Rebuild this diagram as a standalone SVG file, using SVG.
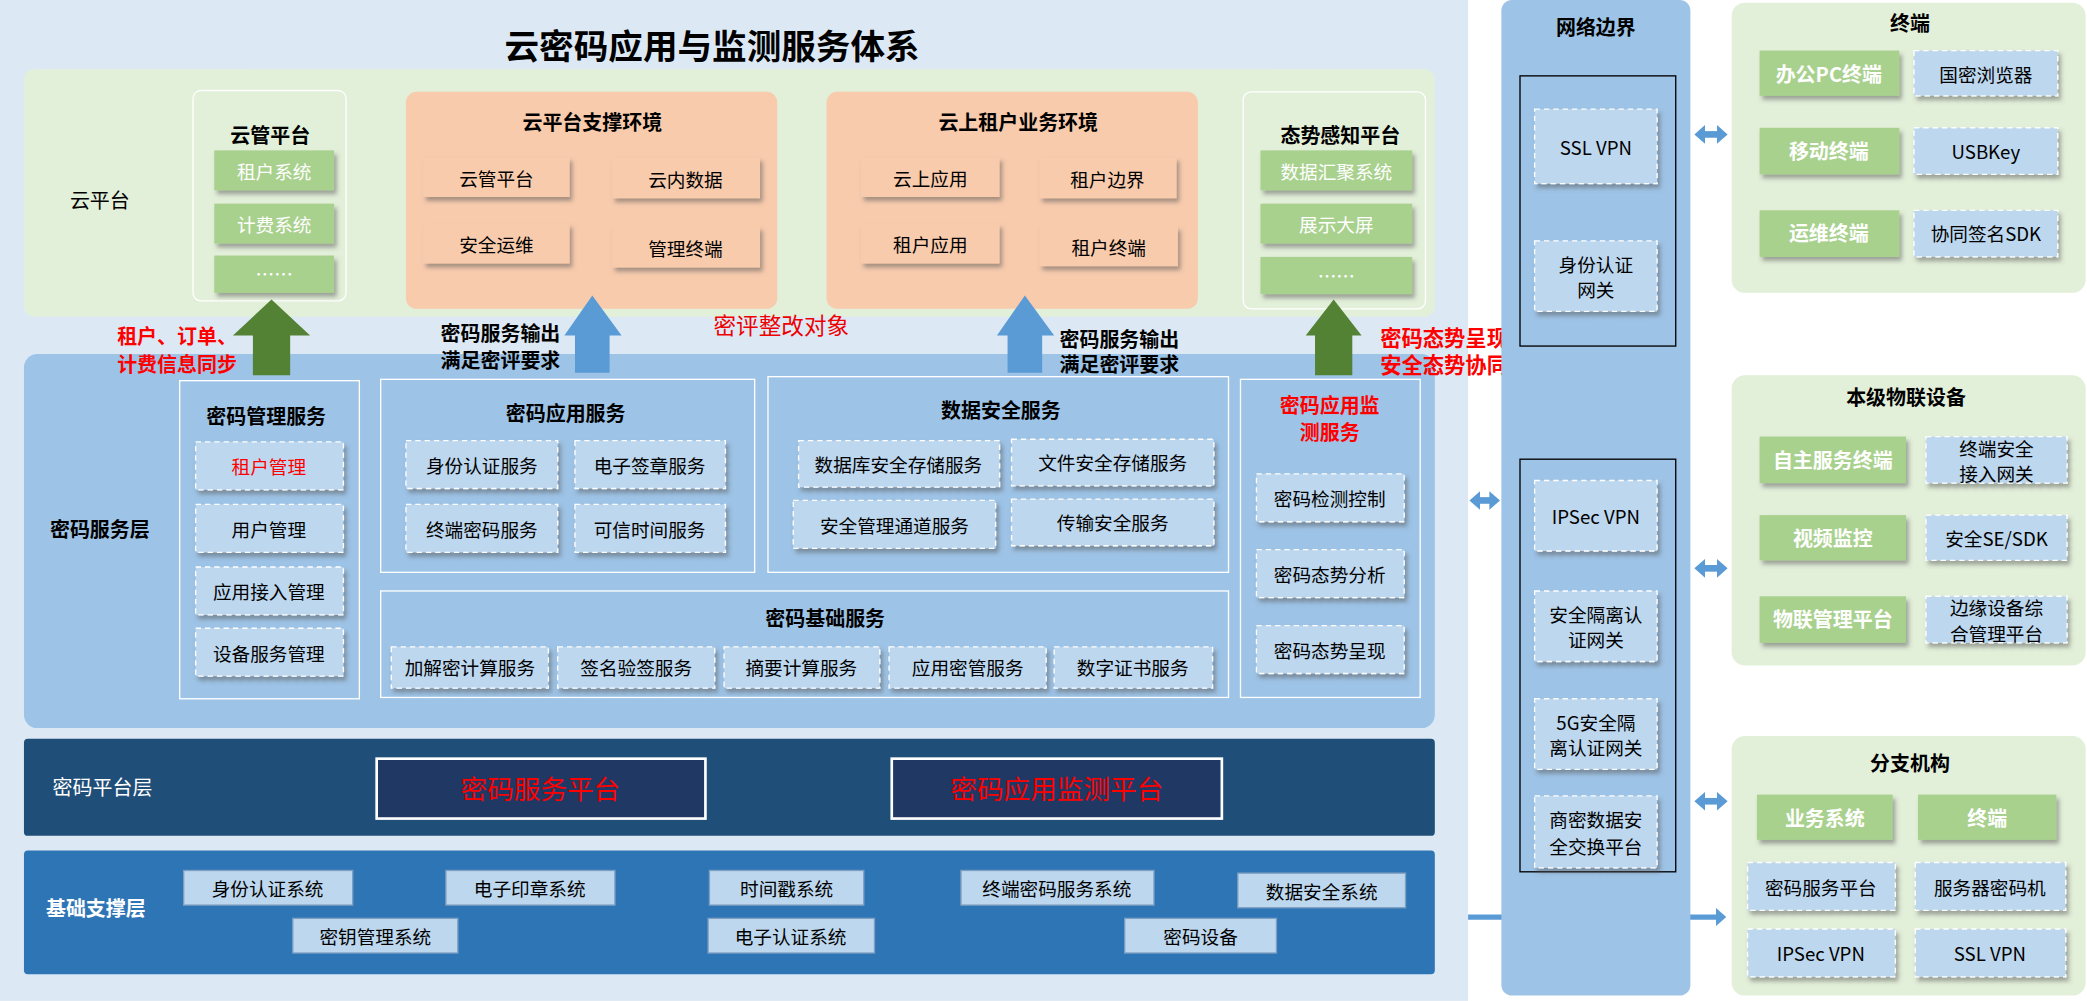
<svg xmlns="http://www.w3.org/2000/svg" width="2087" height="1001" viewBox="0 0 2087 1001">
<style>
text{font-family:"Noto Sans CJK SC","Liberation Sans",sans-serif;text-anchor:middle;dominant-baseline:central;fill:#000}
.t{font-size:14px}
.h{font-size:15px;font-weight:bold}
.w{fill:#fff}
.r{fill:#f00}
.g{fill:#a9d18e;filter:url(#sh)}
.o{fill:#f8cbad;filter:url(#sh)}
.d{fill:#bdd7ee;stroke:#fff;stroke-dasharray:4 3;stroke-width:1;filter:url(#sh)}
.lb{fill:#bdd7ee;stroke:#7f9fc0;stroke-width:1}
.ol{fill:none;stroke:#fff;stroke-width:1}
.da{stroke:#5b9bd5;stroke-width:5;marker-start:url(#ahs);marker-end:url(#ah)}
</style>
<defs>
<filter id="sh" x="-10%" y="-10%" width="130%" height="140%"><feDropShadow dx="2" dy="3" stdDeviation="1.5" flood-color="#555" flood-opacity="0.5"/></filter>
<marker id="ah" markerUnits="userSpaceOnUse" markerWidth="8" markerHeight="14" refX="2" refY="7" orient="auto"><path d="M0,0L8,7L0,14z" fill="#5b9bd5"/></marker>
<marker id="ahs" markerUnits="userSpaceOnUse" markerWidth="8" markerHeight="14" refX="6" refY="7" orient="auto"><path d="M8,0L0,7L8,14z" fill="#5b9bd5"/></marker>
</defs>
<g transform="scale(1.331)">
<g id="main">
<rect x="0" y="0" width="1103" height="752" fill="#dce9f5"/>
<text x="535" y="33" style="font-size:26px;font-weight:bold">云密码应用与监测服务体系</text>
<rect x="18" y="52" width="1060" height="186" rx="8" fill="#e2efd9"/>
<text x="75" y="150" class="h" style="font-weight:normal">云平台</text>
<rect x="18" y="266" width="1060" height="281" rx="10" fill="#9dc3e6"/>
<text x="75" y="397" class="h">密码服务层</text>
<rect x="18" y="555" width="1060" height="73" rx="3" fill="#1f4e79"/>
<text x="77" y="591" class="h w" style="font-weight:normal">密码平台层</text>
<rect x="18" y="639" width="1060" height="93" rx="3" fill="#2e75b6"/>
<text x="72" y="682" class="h w">基础支撑层</text>
</g>
<g id="yunguan">
<rect x="145" y="68" width="115" height="158" rx="6" fill="#e2efd9" stroke="#fff"/>
<text x="203" y="101" class="h">云管平台</text>
<rect class="g" x="161" y="113" width="90" height="30"/><text x="206" y="128" class="t w">租户系统</text>
<rect class="g" x="161" y="153" width="90" height="30"/><text x="206" y="168" class="t w">计费系统</text>
<rect class="g" x="161" y="192" width="90" height="28"/><text x="206" y="205" class="t w">……</text>
</g>
<g id="zhicheng">
<rect x="305" y="69" width="279" height="163" rx="8" fill="#f8cbad"/>
<text x="445" y="91" class="h">云平台支撑环境</text>
<rect class="o" x="318" y="118" width="110" height="30"/><text x="373" y="133" class="t">云管平台</text>
<rect class="o" x="460" y="118" width="111" height="31"/><text x="515" y="134" class="t">云内数据</text>
<rect class="o" x="318" y="168" width="110" height="30"/><text x="373" y="183" class="t">安全运维</text>
<rect class="o" x="460" y="170" width="111" height="31"/><text x="515" y="186" class="t">管理终端</text>
</g>
<g id="zuhu">
<rect x="621" y="69" width="279" height="163" rx="8" fill="#f8cbad"/>
<text x="765" y="91" class="h">云上租户业务环境</text>
<rect class="o" x="647" y="118" width="104" height="30"/><text x="699" y="133" class="t">云上应用</text>
<rect class="o" x="781" y="118" width="103" height="31"/><text x="832" y="134" class="t">租户边界</text>
<rect class="o" x="647" y="168" width="104" height="30"/><text x="699" y="183" class="t">租户应用</text>
<rect class="o" x="781" y="170" width="104" height="30"/><text x="833" y="185" class="t">租户终端</text>
</g>
<g id="taishi">
<rect x="934" y="69" width="137" height="163" rx="6" fill="#e2efd9" stroke="#fff"/>
<text x="1007" y="101" class="h">态势感知平台</text>
<rect class="g" x="947" y="113" width="114" height="30"/><text x="1004" y="128" class="t w">数据汇聚系统</text>
<rect class="g" x="947" y="153" width="114" height="30"/><text x="1004" y="168" class="t w">展示大屏</text>
<rect class="g" x="947" y="193" width="114" height="28"/><text x="1004" y="206" class="t w">……</text>
</g>
<g id="connectors">
<path d="M190,282V252H175L204,225L233,252H218V282Z" fill="#548235"/>
<path d="M432,280V252H424L445,222L467,252H458V280Z" fill="#5b9bd5"/>
<path d="M757,280V252H749L770,222L792,252H783V280Z" fill="#5b9bd5"/>
<path d="M988,282V252H981L1002,225L1023,252H1016V282Z" fill="#548235"/>
<path class="da" d="M1110,376H1121"/>
<path class="da" d="M1279,101H1292"/>
<path class="da" d="M1279,427H1292"/>
<path class="da" d="M1279,602H1292"/>
<path d="M1103,689H1291" stroke="#5b9bd5" stroke-width="4" marker-end="url(#ah)"/>
</g>
<g id="labels">
<text x="133" y="252" class="h r">租户、订单、</text>
<text x="133" y="273" class="h r">计费信息同步</text>
<text x="376" y="250" class="h">密码服务输出</text>
<text x="376" y="270" class="h">满足密评要求</text>
<text x="587" y="244" style="font-size:17px;fill:#e00">密评整改对象</text>
<text x="841" y="254" class="h">密码服务输出</text>
<text x="841" y="273" class="h">满足密评要求</text>
<text x="1037" y="253" class="h r" style="text-anchor:start;font-size:16px">密码态势呈现</text>
<text x="1037" y="273" class="h r" style="text-anchor:start;font-size:16px">安全态势协同</text>
</g>
<g id="mgmt">
<rect class="ol" x="135" y="286" width="135" height="239"/>
<text x="200" y="312" class="h">密码管理服务</text>
<rect class="d" x="147" y="332" width="111" height="36"/><text x="202" y="350" class="t r">租户管理</text>
<rect class="d" x="147" y="379" width="111" height="36"/><text x="202" y="397" class="t">用户管理</text>
<rect class="d" x="147" y="426" width="111" height="36"/><text x="202" y="444" class="t">应用接入管理</text>
<rect class="d" x="147" y="472" width="111" height="36"/><text x="202" y="490" class="t">设备服务管理</text>
</g>
<g id="app">
<rect class="ol" x="286" y="285" width="281" height="145"/>
<text x="425" y="310" class="h">密码应用服务</text>
<rect class="d" x="305" y="331" width="114" height="36"/><text x="362" y="349" class="t">身份认证服务</text>
<rect class="d" x="432" y="331" width="113" height="36"/><text x="488" y="349" class="t">电子签章服务</text>
<rect class="d" x="305" y="379" width="114" height="36"/><text x="362" y="397" class="t">终端密码服务</text>
<rect class="d" x="432" y="379" width="113" height="36"/><text x="488" y="397" class="t">可信时间服务</text>
</g>
<g id="data">
<rect class="ol" x="577" y="283" width="346" height="147"/>
<text x="752" y="308" class="h">数据安全服务</text>
<rect class="d" x="600" y="331" width="151" height="35"/><text x="675" y="348" class="t">数据库安全存储服务</text>
<rect class="d" x="760" y="330" width="152" height="35"/><text x="836" y="347" class="t">文件安全存储服务</text>
<rect class="d" x="596" y="376" width="152" height="36"/><text x="672" y="394" class="t">安全管理通道服务</text>
<rect class="d" x="760" y="375" width="152" height="35"/><text x="836" y="392" class="t">传输安全服务</text>
</g>
<g id="base">
<rect class="ol" x="286" y="444" width="637" height="80"/>
<text x="620" y="464" class="h">密码基础服务</text>
<rect class="d" x="294" y="486" width="118" height="31"/><text x="353" y="501" class="t">加解密计算服务</text>
<rect class="d" x="419" y="486" width="118" height="31"/><text x="478" y="501" class="t">签名验签服务</text>
<rect class="d" x="544" y="486" width="117" height="31"/><text x="602" y="501" class="t">摘要计算服务</text>
<rect class="d" x="668" y="486" width="118" height="31"/><text x="727" y="501" class="t">应用密管服务</text>
<rect class="d" x="792" y="486" width="119" height="31"/><text x="851" y="501" class="t">数字证书服务</text>
</g>
<g id="monitor">
<rect class="ol" x="932" y="285" width="135" height="239"/>
<text x="999" y="304" class="h r">密码应用监</text>
<text x="999" y="324" class="h r">测服务</text>
<rect class="d" x="944" y="356" width="111" height="36"/><text x="999" y="374" class="t">密码检测控制</text>
<rect class="d" x="944" y="413" width="111" height="36"/><text x="999" y="431" class="t">密码态势分析</text>
<rect class="d" x="944" y="470" width="111" height="36"/><text x="999" y="488" class="t">密码态势呈现</text>
</g>
<g id="platform">
<rect x="283" y="570" width="247" height="45" fill="#1f3864" stroke="#fff" stroke-width="2"/>
<text x="406" y="592" style="font-size:20px;fill:#f00">密码服务平台</text>
<rect x="670" y="570" width="248" height="45" fill="#1f3864" stroke="#fff" stroke-width="2"/>
<text x="794" y="592" style="font-size:20px;fill:#f00">密码应用监测平台</text>
</g>
<g id="support">
<rect class="lb" x="138" y="654" width="127" height="26"/><text x="201" y="667" class="t">身份认证系统</text>
<rect class="lb" x="335" y="654" width="127" height="26"/><text x="398" y="667" class="t">电子印章系统</text>
<rect class="lb" x="533" y="654" width="116" height="26"/><text x="591" y="667" class="t">时间戳系统</text>
<rect class="lb" x="722" y="654" width="145" height="26"/><text x="794" y="667" class="t">终端密码服务系统</text>
<rect class="lb" x="930" y="656" width="126" height="26"/><text x="993" y="669" class="t">数据安全系统</text>
<rect class="lb" x="220" y="690" width="124" height="26"/><text x="282" y="703" class="t">密钥管理系统</text>
<rect class="lb" x="532" y="690" width="125" height="26"/><text x="594" y="703" class="t">电子认证系统</text>
<rect class="lb" x="845" y="690" width="114" height="26"/><text x="902" y="703" class="t">密码设备</text>
</g>
<g id="network">
<rect x="1128" y="0" width="142" height="748" rx="8" fill="#9dc3e6"/>
<text x="1199" y="20" class="h">网络边界</text>
<rect x="1142" y="57" width="117" height="203" fill="none" stroke="#000" stroke-width="1"/>
<rect class="d" x="1153" y="82" width="92" height="56"/><text x="1199" y="110" class="t">SSL VPN</text>
<rect class="d" x="1153" y="181" width="92" height="53"/><text x="1199" y="198" class="t">身份认证</text><text x="1199" y="217" class="t">网关</text>
<rect x="1142" y="345" width="117" height="310" fill="none" stroke="#000" stroke-width="1"/>
<rect class="d" x="1153" y="361" width="92" height="53"/><text x="1199" y="387" class="t">IPSec VPN</text>
<rect class="d" x="1153" y="444" width="92" height="53"/><text x="1199" y="461" class="t">安全隔离认</text><text x="1199" y="480" class="t">证网关</text>
<rect class="d" x="1153" y="525" width="92" height="53"/><text x="1199" y="542" class="t">5G安全隔</text><text x="1199" y="561" class="t">离认证网关</text>
<rect class="d" x="1153" y="598" width="92" height="54"/><text x="1199" y="615" class="t">商密数据安</text><text x="1199" y="635" class="t">全交换平台</text>
</g>
<g id="terminal">
<rect x="1301" y="2" width="266" height="218" rx="10" fill="#e2efd9"/>
<text x="1435" y="17" class="h">终端</text>
<rect class="g" x="1322" y="38" width="105" height="34"/><text x="1374" y="55" class="h w">办公PC终端</text>
<rect class="g" x="1322" y="96" width="105" height="35"/><text x="1374" y="113" class="h w">移动终端</text>
<rect class="g" x="1322" y="158" width="105" height="35"/><text x="1374" y="175" class="h w">运维终端</text>
<rect class="d" x="1438" y="38" width="108" height="34"/><text x="1492" y="55" class="t">国密浏览器</text>
<rect class="d" x="1438" y="96" width="108" height="35"/><text x="1492" y="113" class="t">USBKey</text>
<rect class="d" x="1438" y="158" width="108" height="35"/><text x="1492" y="175" class="t">协同签名SDK</text>
</g>
<g id="iot">
<rect x="1301" y="282" width="266" height="218" rx="10" fill="#e2efd9"/>
<text x="1432" y="298" class="h">本级物联设备</text>
<rect class="g" x="1322" y="328" width="110" height="35"/><text x="1377" y="345" class="h w">自主服务终端</text>
<rect class="g" x="1322" y="387" width="110" height="34"/><text x="1377" y="404" class="h w">视频监控</text>
<rect class="g" x="1322" y="448" width="110" height="35"/><text x="1377" y="465" class="h w">物联管理平台</text>
<rect class="d" x="1447" y="328" width="106" height="35"/><text x="1500" y="336" class="t">终端安全</text><text x="1500" y="355" class="t">接入网关</text>
<rect class="d" x="1447" y="387" width="106" height="34"/><text x="1500" y="404" class="t">安全SE/SDK</text>
<rect class="d" x="1447" y="448" width="106" height="35"/><text x="1500" y="456" class="t">边缘设备综</text><text x="1500" y="475" class="t">合管理平台</text>
</g>
<g id="branch">
<rect x="1301" y="553" width="266" height="195" rx="10" fill="#e2efd9"/>
<text x="1435" y="573" class="h">分支机构</text>
<rect class="g" x="1320" y="597" width="102" height="34"/><text x="1371" y="614" class="h w">业务系统</text>
<rect class="g" x="1441" y="597" width="104" height="34"/><text x="1493" y="614" class="h w">终端</text>
<rect class="d" x="1313" y="648" width="111" height="36"/><text x="1368" y="666" class="t">密码服务平台</text>
<rect class="d" x="1439" y="648" width="113" height="36"/><text x="1495" y="666" class="t">服务器密码机</text>
<rect class="d" x="1313" y="698" width="111" height="36"/><text x="1368" y="716" class="t">IPSec VPN</text>
<rect class="d" x="1439" y="698" width="113" height="36"/><text x="1495" y="716" class="t">SSL VPN</text>
</g>
</g>
</svg>
